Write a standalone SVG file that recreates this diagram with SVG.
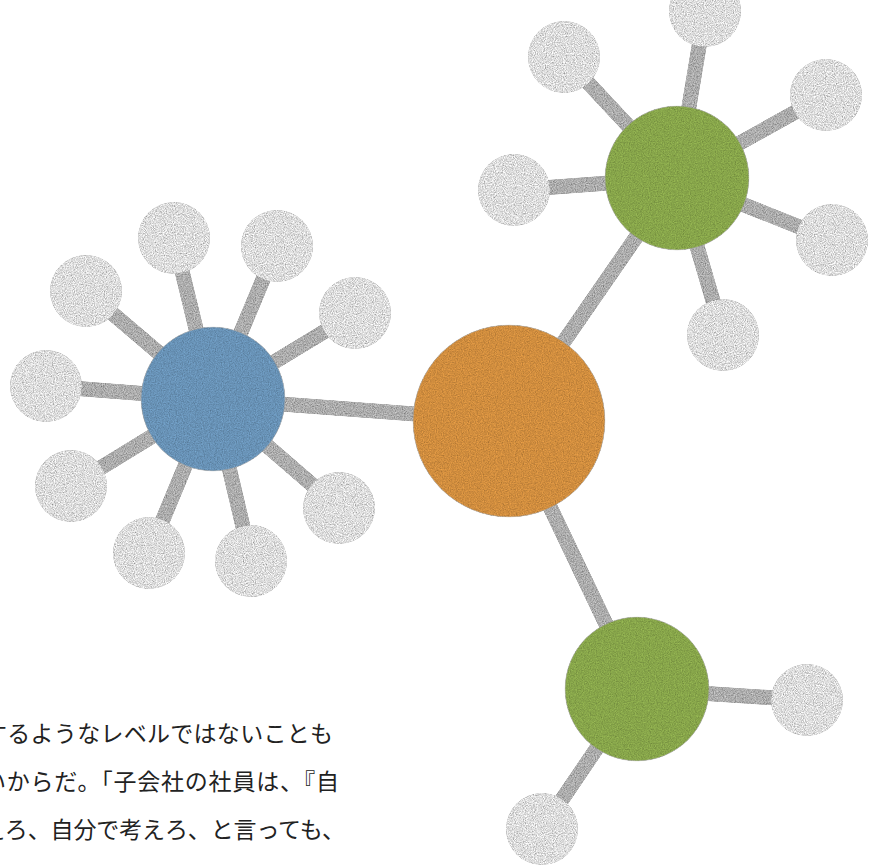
<svg xmlns="http://www.w3.org/2000/svg" width="880" height="868" viewBox="0 0 880 868">
  <defs>
    <filter id="grainSoft" x="-10%" y="-10%" width="120%" height="120%">
      <feTurbulence type="fractalNoise" baseFrequency="0.85" numOctaves="3" seed="4" result="n"/>
      <feColorMatrix in="n" type="matrix" values="1 0 0 0 0  1 0 0 0 0  1 0 0 0 0  0 0 0 0 1" result="g"/>
      <feComposite in="SourceGraphic" in2="g" operator="arithmetic" k1="0.9" k2="0.55" k3="0" k4="0" result="m"/>
      <feComposite in="m" in2="SourceGraphic" operator="in"/>
    </filter>
    <filter id="grainStrong" x="-10%" y="-10%" width="120%" height="120%">
      <feTurbulence type="fractalNoise" baseFrequency="0.9" numOctaves="3" seed="9" result="n"/>
      <feColorMatrix in="n" type="matrix" values="1 0 0 0 0  1 0 0 0 0  1 0 0 0 0  0 0 0 0 1" result="g"/>
      <feComposite in="SourceGraphic" in2="g" operator="arithmetic" k1="1.5" k2="0.27" k3="0" k4="0" result="m"/>
      <feComposite in="m" in2="SourceGraphic" operator="in"/>
    </filter>
  </defs>
  <style>
    .link { stroke: #ababab; stroke-width: 15; stroke-linecap: butt; fill: none; }
    .leaf { fill: #dbdbdb; filter: url(#grainStrong); }
    .hub { filter: url(#grainSoft); stroke: #b8b8b8; stroke-width: 1; stroke-opacity: 0.6; }
    .orange { fill: #d08d3e; }
    .blue { fill: #6892b6; }
    .green { fill: #87a54a; }
    .txt { font-family: "Noto Sans CJK JP", "Noto Sans CJK SC", sans-serif; font-size: 23px; font-weight: 400; fill: #222222; }
  </style>
  <rect width="880" height="868" fill="#ffffff"/>

  <g id="text">
    <text class="txt" x="-16" y="742" textLength="349" lengthAdjust="spacing">するようなレベルではないことも</text>
    <text class="txt" x="-17" y="790" textLength="356" lengthAdjust="spacing">いからだ。「子会社の社員は、『自</text>
    <text class="txt" x="-18" y="838" textLength="363" lengthAdjust="spacing">えろ、自分で考えろ、と言っても、</text>
  </g>

  <g id="connectors" filter="url(#grainStrong)">
    <line class="link" x1="213" y1="399" x2="509" y2="421"/>
    <line class="link" x1="509" y1="421" x2="677" y2="178"/>
    <line class="link" x1="509" y1="421" x2="637" y2="689"/>
    <line class="link" x1="213" y1="399" x2="174" y2="238"/>
    <line class="link" x1="213" y1="399" x2="277" y2="246"/>
    <line class="link" x1="213" y1="399" x2="86" y2="291"/>
    <line class="link" x1="213" y1="399" x2="355" y2="313"/>
    <line class="link" x1="213" y1="399" x2="46" y2="386"/>
    <line class="link" x1="213" y1="399" x2="71" y2="486"/>
    <line class="link" x1="213" y1="399" x2="339" y2="508"/>
    <line class="link" x1="213" y1="399" x2="149" y2="553"/>
    <line class="link" x1="213" y1="399" x2="251" y2="561"/>
    <line class="link" x1="677" y1="178" x2="564" y2="57"/>
    <line class="link" x1="677" y1="178" x2="705" y2="11"/>
    <line class="link" x1="677" y1="178" x2="826" y2="95"/>
    <line class="link" x1="677" y1="178" x2="514" y2="190"/>
    <line class="link" x1="677" y1="178" x2="832" y2="240"/>
    <line class="link" x1="677" y1="178" x2="723" y2="335"/>
    <line class="link" x1="637" y1="689" x2="807" y2="700"/>
    <line class="link" x1="637" y1="689" x2="542" y2="829"/>
  </g>

  <g id="hub-orange"><circle class="hub orange" cx="509" cy="421" r="96"/></g>
  <g id="hub-blue"><circle class="hub blue" cx="213" cy="399" r="72"/></g>
  <g id="hub-green-top"><circle class="hub green" cx="677" cy="178" r="72"/></g>
  <g id="hub-green-bottom"><circle class="hub green" cx="637" cy="689" r="72"/></g>

  <g id="leaf-b1"><circle class="leaf" cx="174" cy="238" r="36"/></g>
  <g id="leaf-b2"><circle class="leaf" cx="277" cy="246" r="36"/></g>
  <g id="leaf-b3"><circle class="leaf" cx="86" cy="291" r="36"/></g>
  <g id="leaf-b4"><circle class="leaf" cx="355" cy="313" r="36"/></g>
  <g id="leaf-b5"><circle class="leaf" cx="46" cy="386" r="36"/></g>
  <g id="leaf-b6"><circle class="leaf" cx="71" cy="486" r="36"/></g>
  <g id="leaf-b7"><circle class="leaf" cx="339" cy="508" r="36"/></g>
  <g id="leaf-b8"><circle class="leaf" cx="149" cy="553" r="36"/></g>
  <g id="leaf-b9"><circle class="leaf" cx="251" cy="561" r="36"/></g>

  <g id="leaf-t1"><circle class="leaf" cx="564" cy="57" r="36"/></g>
  <g id="leaf-t2"><circle class="leaf" cx="705" cy="11" r="36"/></g>
  <g id="leaf-t3"><circle class="leaf" cx="826" cy="95" r="36"/></g>
  <g id="leaf-t4"><circle class="leaf" cx="514" cy="190" r="36"/></g>
  <g id="leaf-t5"><circle class="leaf" cx="832" cy="240" r="36"/></g>
  <g id="leaf-t6"><circle class="leaf" cx="723" cy="335" r="36"/></g>

  <g id="leaf-g1"><circle class="leaf" cx="807" cy="700" r="36"/></g>
  <g id="leaf-g2"><circle class="leaf" cx="542" cy="829" r="36"/></g>
</svg>
